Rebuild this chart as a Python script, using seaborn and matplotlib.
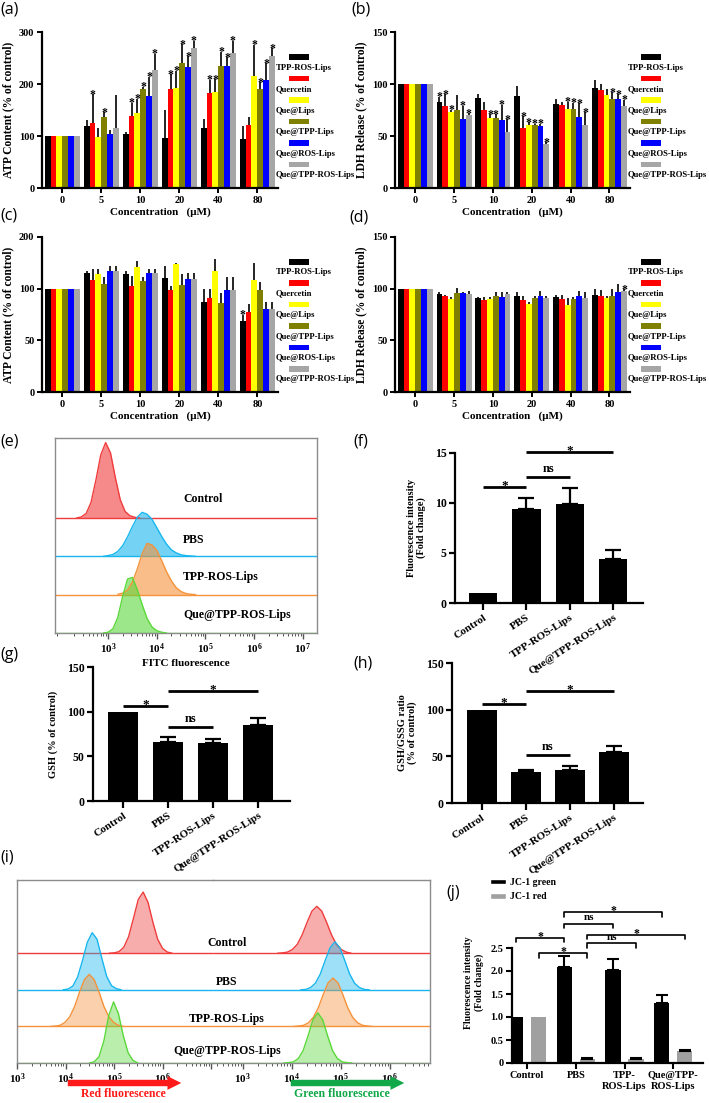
import numpy as np
import pandas as pd
import matplotlib
matplotlib.use("Agg")
import matplotlib.pyplot as plt
import seaborn as sns
from matplotlib.patches import Rectangle, Patch, FancyArrowPatch
from matplotlib.container import BarContainer
from matplotlib.ticker import LogLocator, NullFormatter, FixedLocator

# ---------------------------------------------------------------- data
concentrations = ["0", "5", "10", "20", "40", "80"]
formulations = ["TPP-ROS-Lips", "Quercetin", "Que@Lips", "Que@TPP-Lips",
                "Que@ROS-Lips", "Que@TPP-ROS-Lips"]
formulation_colors = ["#000000", "#ff0000", "#ffff00", "#808000", "#0000ff", "#a6a6a6"]

# (a) ATP content, injured cells  (rows = formulations, cols = concentrations)
atp_a_mean = [[100, 120, 104, 97, 116, 94],
              [100, 125, 138, 190, 182, 121],
              [100, 98, 145, 193, 184, 215],
              [100, 136, 191, 241, 234, 190],
              [100, 103, 177, 232, 234, 208],
              [100, 116, 226, 269, 260, 253]]
atp_a_err = [[0, 11, 3, 53, 16, 26],
             [0, 55, 26, 29, 26, 15],
             [0, 17, 27, 32, 25, 60],
             [0, 10, 4, 35, 28, 13],
             [0, 9, 37, 21, 17, 32],
             [0, 63, 32, 14, 23, 16]]
atp_a_star = [[0, 0, 0, 0, 0, 0],
              [0, 1, 1, 1, 1, 0],
              [0, 0, 1, 1, 1, 1],
              [0, 1, 1, 1, 1, 1],
              [0, 0, 1, 1, 1, 1],
              [0, 0, 1, 1, 1, 1]]

# (b) LDH release, injured cells
ldh_b_mean = [[100, 83, 87, 88, 81, 96],
              [100, 79, 75, 58, 80, 94],
              [100, 73, 67, 61, 76, 89],
              [100, 75, 67, 61, 76, 86],
              [100, 66, 65, 60, 68, 86],
              [100, 70, 54, 42.5, 61, 79]]
ldh_b_err = [[0, 4.5, 3, 10, 5, 8],
             [0, 11, 8, 11, 3, 6],
             [0, 2, 4, 2, 7, 6],
             [0, 14, 4, 1, 6, 6],
             [0, 13, 15, 2, 13.5, 4],
             [0, 2, 12, 1.3, 12, 6]]
ldh_b_star = [[0, 1, 0, 0, 0, 0],
              [0, 1, 0, 1, 0, 0],
              [0, 1, 1, 1, 1, 0],
              [0, 0, 1, 1, 1, 1],
              [0, 1, 1, 1, 1, 1],
              [0, 1, 1, 1, 1, 1]]

# (c) ATP content, normal cells
atp_c_mean = [[100, 130, 129, 121, 87, 69],
              [100, 117, 106, 99, 91, 77],
              [100, 128, 141, 148, 135, 116],
              [100, 110, 114, 107, 86, 99],
              [100, 135, 130, 118, 99, 80],
              [100, 135, 130, 118, 99, 80]]
atp_c_err = [[0, 5, 5, 23, 13, 6],
             [0, 22, 19, 6, 9, 8],
             [0, 10, 12, 2, 22, 34],
             [0, 13, 8, 22, 10, 13],
             [0, 8, 8, 12, 23, 7],
             [0, 8, 8, 12, 23, 7]]
atp_c_star = [[0, 0, 0, 0, 0, 1],
              [0, 0, 0, 0, 0, 0],
              [0, 0, 0, 0, 0, 0],
              [0, 0, 0, 0, 0, 0],
              [0, 0, 0, 0, 0, 0],
              [0, 0, 0, 0, 0, 0]]

# (d) LDH release, normal cells
ldh_d_mean = [[100, 94.5, 91, 92.6, 92, 94],
              [100, 92.6, 89, 89, 90, 92.6],
              [100, 90, 90, 85.5, 84.5, 90.6],
              [100, 96, 92.6, 91, 90, 92.6],
              [100, 96, 92, 92.6, 93, 97],
              [100, 95, 94.5, 91, 91, 97.4]]
ldh_d_err = [[0, 2, 1, 4, 2, 6],
             [0, 1, 3, 4, 4, 6],
             [0, 2, 1.5, 1.5, 6, 2],
             [0, 4.5, 4, 1.5, 1.5, 7.4],
             [0, 1, 5, 5, 5, 8],
             [0, 3, 2, 1.5, 5.5, 2]]
ldh_d_star = [[0, 0, 0, 0, 0, 0],
              [0, 0, 0, 0, 0, 0],
              [0, 0, 0, 0, 0, 0],
              [0, 0, 0, 0, 0, 0],
              [0, 0, 0, 0, 0, 0],
              [0, 0, 0, 0, 0, 1]]

treatments = ["Control", "PBS", "TPP-ROS-Lips", "Que@TPP-ROS-Lips"]
flow_names = ["Control", "PBS", "TPP-ROS-Lips", "Que@TPP-ROS-Lips"]
flow_colors = ["#f03c3c", "#17b6ef", "#f5923a", "#5ad83a"]

# (e) FITC histograms (log10 intensity, relative count)
e_control_logx = [2.35, 2.45, 2.55, 2.65, 2.75, 2.85, 2.95, 3.05, 3.15, 3.25, 3.35, 3.45, 3.55, 3.65]
e_control_h = [0.00, 0.03, 0.12, 0.41, 0.99, 1.65, 1.97, 1.70, 1.05, 0.48, 0.17, 0.06, 0.02, 0.00]
e_pbs_logx = [2.9, 3.0, 3.1, 3.2, 3.3, 3.4, 3.5, 3.6, 3.7, 3.8, 3.9, 4.0, 4.1, 4.2, 4.3, 4.4, 4.5, 4.6, 4.7, 4.8]
e_pbs_h = [0.00, 0.02, 0.05, 0.13, 0.28, 0.51, 0.78, 1.02, 1.15, 1.10, 0.97, 0.75, 0.52, 0.32, 0.17, 0.09, 0.04, 0.02, 0.01, 0.00]
e_tpp_logx = [3.2, 3.3, 3.4, 3.5, 3.6, 3.7, 3.8, 3.9, 4.0, 4.1, 4.2, 4.3, 4.4, 4.5, 4.6, 4.7, 4.8]
e_tpp_h = [0.01, 0.04, 0.12, 0.33, 0.67, 1.07, 1.34, 1.30, 1.16, 0.89, 0.60, 0.36, 0.18, 0.08, 0.03, 0.01, 0.00]
e_que_logx = [2.9, 3.0, 3.1, 3.2, 3.3, 3.4, 3.5, 3.6, 3.7, 3.8, 3.9, 4.0, 4.1, 4.2]
e_que_h = [0.00, 0.02, 0.11, 0.41, 0.96, 1.41, 1.45, 1.13, 0.74, 0.38, 0.16, 0.06, 0.02, 0.00]

# (f) ROS fluorescence intensity
ros_mean = [1.0, 9.43, 9.87, 4.4]
ros_err = [0, 1.1, 1.63, 0.93]
ros_sig = [(0, 1, 11.6, "*"), (1, 2, 12.6, "ns"), (1, 3, 15.1, "*")]

# (g) GSH
gsh_mean = [100, 66.4, 64.6, 84.8]
gsh_err = [0, 5, 4.8, 8.5]
gsh_sig = [(0, 1, 106.4, "*"), (1, 2, 82.5, "ns"), (1, 3, 123.5, "*")]

# (h) GSH/GSSG ratio
ratio_mean = [100, 33, 35, 54.3]
ratio_err = [0, 2, 5, 6.4]
ratio_sig = [(0, 1, 105.7, "*"), (1, 2, 51.4, "ns"), (1, 3, 120.3, "*")]

# (i) JC-1 histograms: red channel (left) and green channel (right)
i_red_control_logx = [4.9, 5.0, 5.1, 5.2, 5.3, 5.4, 5.5, 5.6, 5.7, 5.8, 5.9, 6.0, 6.1, 6.2]
i_red_control_h = [0.00, 0.01, 0.04, 0.16, 0.45, 0.95, 1.47, 1.67, 1.39, 0.85, 0.38, 0.13, 0.03, 0.00]
i_red_pbs_logx = [3.95, 4.05, 4.15, 4.25, 4.35, 4.45, 4.55, 4.65, 4.75, 4.85, 4.95, 5.05, 5.15]
i_red_pbs_h = [0.00, 0.02, 0.10, 0.35, 0.80, 1.30, 1.56, 1.38, 0.85, 0.36, 0.11, 0.03, 0.00]
i_red_tpp_logx = [3.69, 3.79, 3.89, 3.99, 4.09, 4.19, 4.29, 4.39, 4.49, 4.59, 4.69, 4.79, 4.89, 4.99, 5.09, 5.19]
i_red_tpp_h = [0.00, 0.01, 0.03, 0.11, 0.27, 0.55, 0.94, 1.28, 1.42, 1.28, 0.94, 0.55, 0.27, 0.11, 0.03, 0.00]
i_red_que_logx = [4.49, 4.59, 4.69, 4.79, 4.89, 4.99, 5.09, 5.19, 5.29, 5.39, 5.49]
i_red_que_h = [0.00, 0.03, 0.17, 0.60, 1.29, 1.67, 1.35, 0.75, 0.28, 0.07, 0.00]

i_grn_control_logx = [3.71, 3.81, 3.91, 4.01, 4.11, 4.21, 4.31, 4.41, 4.51, 4.61, 4.71, 4.81, 4.91, 5.01, 5.11, 5.21]
i_grn_control_h = [0.00, 0.01, 0.03, 0.10, 0.24, 0.50, 0.84, 1.15, 1.28, 1.15, 0.84, 0.50, 0.24, 0.10, 0.03, 0.00]
i_grn_pbs_logx = [4.18, 4.28, 4.38, 4.48, 4.58, 4.68, 4.78, 4.88, 4.98, 5.08, 5.18, 5.28, 5.38, 5.48, 5.58]
i_grn_pbs_h = [0.00, 0.01, 0.06, 0.18, 0.43, 0.80, 1.15, 1.31, 1.15, 0.80, 0.43, 0.18, 0.06, 0.01, 0.00]
i_grn_tpp_logx = [4.04, 4.14, 4.24, 4.34, 4.44, 4.54, 4.64, 4.74, 4.84, 4.94, 5.04, 5.14, 5.24, 5.34, 5.44, 5.54, 5.64]
i_grn_tpp_h = [0.00, 0.01, 0.03, 0.10, 0.25, 0.51, 0.87, 1.19, 1.32, 1.19, 0.87, 0.51, 0.25, 0.10, 0.03, 0.01, 0.00]
i_grn_que_logx = [3.83, 3.93, 4.03, 4.13, 4.23, 4.33, 4.43, 4.53, 4.63, 4.73, 4.83, 4.93, 5.03, 5.13, 5.23]
i_grn_que_h = [0.00, 0.01, 0.03, 0.12, 0.34, 0.74, 1.18, 1.37, 1.18, 0.74, 0.34, 0.12, 0.03, 0.01, 0.00]

# (j) JC-1 fluorescence
jc_groups = ["Control", "PBS", "TPP-\nROS-Lips", "Que@TPP-\nROS-Lips"]
jc_channels = ["JC-1 green", "JC-1 red"]
jc_green_mean = [1.0, 2.08, 2.03, 1.30]
jc_green_err = [0, 0.25, 0.23, 0.17]
jc_red_mean = [1.0, 0.095, 0.09, 0.255]
jc_red_err = [0, 0.02, 0.02, 0.03]
# (group, channel) pairs: channel 0 = green, 1 = red
jc_sig = [((0, 0), (1, 0), 2.72, "*"), ((0, 1), (1, 1), 2.39, "*"),
          ((1, 0), (2, 0), 3.03, "ns"), ((1, 1), (2, 1), 2.61, "ns"),
          ((1, 0), (3, 0), 3.28, "*"), ((1, 1), (3, 1), 2.79, "*")]

# ---------------------------------------------------------------- style
sns.set_theme(style="ticks")
plt.rcParams["font.family"] = ["Liberation Serif", "DejaVu Serif"]
plt.rcParams["font.weight"] = "bold"
plt.rcParams["axes.labelweight"] = "bold"
plt.rcParams["mathtext.fontset"] = "custom"
plt.rcParams["mathtext.rm"] = "Liberation Serif:bold"
plt.rcParams["mathtext.it"] = "Liberation Serif:bold"
plt.rcParams["mathtext.bf"] = "Liberation Serif:bold"
plt.rcParams["axes.linewidth"] = 1.6
plt.rcParams["axes.edgecolor"] = "black"
plt.rcParams["axes.facecolor"] = "none"
plt.rcParams["xtick.color"] = "black"
plt.rcParams["ytick.color"] = "black"
plt.rcParams["text.color"] = "black"
plt.rcParams["axes.labelcolor"] = "black"

W, H = 709.0, 1103.0
fig = plt.figure(figsize=(W / 100, H / 100), dpi=100, facecolor="white")


def rect(l, t, r, b):
    return [l / W, 1 - b / H, (r - l) / W, (b - t) / H]


def seg_fwd(v):
    v = np.asarray(v, dtype=float)
    return np.where(v <= 100, v, 100 + (v - 100) / 2.0)


def seg_inv(t):
    t = np.asarray(t, dtype=float)
    return np.where(t <= 100, t, 100 + (t - 100) * 2.0)


def bar_containers(ax):
    return [c for c in ax.containers if isinstance(c, BarContainer)]


def conc_panel(ax, mean, err, star, ylabel, ymax, yticks, segmented=False):
    df = pd.DataFrame({"conc": np.tile(concentrations, len(formulations)),
                       "form": np.repeat(formulations, len(concentrations)),
                       "val": np.ravel(mean)})
    sns.barplot(data=df, x="conc", y="val", hue="form", order=concentrations,
                hue_order=formulations, palette=formulation_colors, saturation=1,
                width=0.9, errorbar=None, legend=False, linewidth=0, ax=ax)
    if segmented:
        ax.set_yscale("function", functions=(seg_fwd, seg_inv))
    for i, cont in enumerate(bar_containers(ax)):
        for j, bar in enumerate(cont.patches):
            xc = bar.get_x() + bar.get_width() / 2
            m, e = mean[i][j], err[i][j]
            if e > 0:
                ax.plot([xc, xc], [m, m + e], color="black", lw=1.2,
                        solid_capstyle="butt", zorder=1)
            if star[i][j]:
                ax.annotate("*", (xc, m + e), xytext=(0, -2.5), textcoords="offset points",
                            ha="center", va="baseline", fontsize=8.5, annotation_clip=False)
    ax.set_xlim(-0.52, 5.53)
    ax.set_ylim(0, ymax)
    ax.yaxis.set_major_locator(FixedLocator(yticks))
    ax.set_yticklabels([str(t) for t in yticks])
    ax.yaxis.set_minor_locator(FixedLocator([]))
    ax.set_xlabel("Concentration   (μM)", fontsize=8, labelpad=2)
    ax.set_ylabel(ylabel, fontsize=8.3, labelpad=3)
    ax.tick_params(axis="both", labelsize=7.5, length=3.5, width=1.4, pad=2)
    sns.despine(ax=ax)
    for k, (name, col) in enumerate(zip(formulations, formulation_colors)):
        y0 = 0.84 - k * 0.138
        ax.add_patch(Rectangle((1.045, y0 - 0.018), 0.085, 0.036, transform=ax.transAxes,
                               facecolor=col, edgecolor="none", clip_on=False))
        ax.text(0.99, y0 - 0.068, name, transform=ax.transAxes, fontsize=6.2,
                va="center", ha="left")


def flow_curve(ax, logx, h, base, color, alpha):
    x = np.power(10.0, np.asarray(logx))
    y = base + np.asarray(h)
    ax.axhline(base, color=color, lw=1.0, zorder=2)
    ax.fill_between(x, base, y, color=color, alpha=alpha, lw=0, zorder=2)
    ax.plot(x, y, color=color, lw=1.0, zorder=3)


def style_flow_axis(ax, xlim, ylim_top, major, labelled):
    ax.set_xscale("log")
    ax.set_xlim(*xlim)
    ax.set_ylim(0, ylim_top)
    ax.set_yticks([])
    ax.xaxis.set_major_locator(FixedLocator(major))
    ax.set_xticklabels([r"$\mathdefault{10^{%d}}$" % int(round(np.log10(m))) if lab else ""
                        for m, lab in zip(major, labelled)])
    ax.xaxis.set_minor_locator(LogLocator(base=10, subs=np.arange(2, 10) * 1.0, numticks=20))
    ax.xaxis.set_minor_formatter(NullFormatter())
    ax.tick_params(axis="x", which="major", length=4, width=1.0, labelsize=8, pad=2, color="#555555")
    ax.tick_params(axis="x", which="minor", length=2, width=0.7, color="#555555")
    for sp in ax.spines.values():
        sp.set_color("#8c8c8c")
        sp.set_linewidth(1.0)


def simple_panel(ax, mean, err, sig, ylabel, ymax, yticks, xlim, width, labelpad):
    df = pd.DataFrame({"treatment": treatments, "val": mean})
    sns.barplot(data=df, x="treatment", y="val", order=treatments, color="black",
                saturation=1, width=width, errorbar=None, linewidth=0, ax=ax)
    for k in range(len(treatments)):
        if err[k] > 0:
            ax.errorbar(k, mean[k], yerr=[[0], [err[k]]], fmt="none", ecolor="black",
                        elinewidth=1.6, capsize=5.5, capthick=1.6, zorder=1)
    for x1, x2, y, txt in sig:
        ax.plot([x1, x2], [y, y], color="black", lw=2.0, clip_on=False, solid_capstyle="butt")
        if txt == "*":
            ax.annotate("*", ((x1 + x2) / 2, y), xytext=(0, -1.5), textcoords="offset points",
                        ha="center", va="baseline", fontsize=9.5, annotation_clip=False)
        else:
            ax.annotate(txt, ((x1 + x2) / 2, y), xytext=(0, 1.5), textcoords="offset points",
                        ha="center", va="bottom", fontsize=9, annotation_clip=False)
    ax.set_xlim(*xlim)
    ax.set_ylim(0, ymax)
    ax.set_yticks(yticks)
    ax.set_yticklabels([str(t) for t in yticks])
    ax.set_xlabel("")
    ax.set_ylabel(ylabel, fontsize=7.5, labelpad=labelpad, linespacing=1.1)
    ax.tick_params(axis="y", labelsize=8.5, length=4, width=1.6, pad=2)
    ax.tick_params(axis="x", labelsize=8, length=5, width=1.6, pad=2)
    for lab in ax.get_xticklabels():
        lab.set_rotation(33)
        lab.set_ha("right")
        lab.set_rotation_mode("anchor")
    sns.despine(ax=ax)


# ---------------------------------------------------------------- (a)-(d)
axA = fig.add_axes(rect(42, 32, 278, 188))
conc_panel(axA, atp_a_mean, atp_a_err, atp_a_star, "ATP Content (% of control)", 300, [0, 100, 200, 300])
axB = fig.add_axes(rect(395, 32, 630, 188))
conc_panel(axB, ldh_b_mean, ldh_b_err, ldh_b_star, "LDH Release (% of control)", 150, [0, 50, 100, 150])
axC = fig.add_axes(rect(42, 237, 278, 392))
conc_panel(axC, atp_c_mean, atp_c_err, atp_c_star, "ATP Content (% of control)", 200, [0, 50, 100, 200],
           segmented=True)
axD = fig.add_axes(rect(395, 237, 630, 392))
conc_panel(axD, ldh_d_mean, ldh_d_err, ldh_d_star, "LDH Release (% of control)", 150, [0, 50, 100, 150])

# ---------------------------------------------------------------- (e)
axE = fig.add_axes(rect(55, 438, 317, 633))
e_curves = [(e_control_logx, e_control_h, 3), (e_pbs_logx, e_pbs_h, 2),
            (e_tpp_logx, e_tpp_h, 1), (e_que_logx, e_que_h, 0)]
for (lx, hh, base), col in zip(e_curves, flow_colors):
    flow_curve(axE, lx, hh, base, col, 0.6)
style_flow_axis(axE, (10 ** 1.91, 10 ** 7.29), 5.09, [1e3, 1e4, 1e5, 1e6, 1e7], [1, 1, 1, 1, 1])
axE.set_xlabel("FITC fluorescence", fontsize=8, labelpad=2)
for name, ypx in zip(flow_names, [499, 540, 577, 615]):
    fig.text(183 / W, 1 - ypx / H, name, fontsize=8.5, ha="left", va="center")

# ---------------------------------------------------------------- (f) (g) (h)
axF = fig.add_axes(rect(455, 453, 643, 603))
simple_panel(axF, ros_mean, ros_err, ros_sig, "Fluorescence intensity\n(Fold change)", 15,
             [0, 5, 10, 15], (-0.65, 3.69), 0.65, 6)
axG = fig.add_axes(rect(93, 667, 290, 801))
simple_panel(axG, gsh_mean, gsh_err, gsh_sig, "GSH (% of control)", 150,
             [0, 50, 100, 150], (-0.67, 3.71), 0.67, 6)
axH = fig.add_axes(rect(452, 663, 643, 803))
simple_panel(axH, ratio_mean, ratio_err, ratio_sig, "GSH/GSSG ratio\n(% of control)", 150,
             [0, 50, 100, 150], (-0.68, 3.66), 0.68, 6)

# ---------------------------------------------------------------- (i)
axI1 = fig.add_axes(rect(17, 880, 213, 1063))
axI2 = fig.add_axes(rect(213, 880, 430, 1063))
i_red = [(i_red_control_logx, i_red_control_h, 3), (i_red_pbs_logx, i_red_pbs_h, 2),
         (i_red_tpp_logx, i_red_tpp_h, 1), (i_red_que_logx, i_red_que_h, 0)]
i_grn = [(i_grn_control_logx, i_grn_control_h, 3), (i_grn_pbs_logx, i_grn_pbs_h, 2),
         (i_grn_tpp_logx, i_grn_tpp_h, 1), (i_grn_que_logx, i_grn_que_h, 0)]
for (lx, hh, base), col in zip(i_red, flow_colors):
    flow_curve(axI1, lx, hh, base, col, 0.42)
for (lx, hh, base), col in zip(i_grn, flow_colors):
    flow_curve(axI2, lx, hh, base, col, 0.42)
style_flow_axis(axI1, (1e3, 10 ** 7.04), 5.0, [1e3, 1e4, 1e5, 1e6, 1e7], [1, 1, 1, 1, 0])
style_flow_axis(axI2, (10 ** 2.39, 10 ** 6.82), 5.0, [1e3, 1e4, 1e5, 1e6], [1, 1, 1, 1])
axI1.spines["right"].set_visible(False)
axI2.spines["left"].set_visible(False)
for name, ypx in zip(flow_names, [943, 982, 1019, 1051]):
    fig.text(227 / W, 1 - ypx / H, name, fontsize=8.5, ha="center", va="center")
for (x0, x1, col, txt, xc) in [(65, 184, "#ff1a1a", "Red fluorescence", 123),
                               (288, 407, "#10a848", "Green fluorescence", 342)]:
    fig.add_artist(FancyArrowPatch((x0 / W, 20 / H), (x1 / W, 20 / H), transform=fig.transFigure,
                                   arrowstyle="simple,head_length=0.9,head_width=0.9,tail_width=0.42",
                                   mutation_scale=11, color=col, lw=0))
    fig.text(xc / W, 1 - 1094 / H, txt, color=col, fontsize=8.5, ha="center", va="center")

# ---------------------------------------------------------------- (j)
axJ = fig.add_axes(rect(512, 902, 703, 1063))
jc_df = pd.DataFrame({"group": np.tile(jc_groups, 2),
                      "channel": np.repeat(jc_channels, len(jc_groups)),
                      "val": jc_green_mean + jc_red_mean})
sns.barplot(data=jc_df, x="group", y="val", hue="channel", order=jc_groups, hue_order=jc_channels,
            palette=["#000000", "#a0a0a0"], saturation=1, width=0.944, gap=0.34,
            errorbar=None, linewidth=0, ax=axJ)
jc_means = [jc_green_mean, jc_red_mean]
jc_errs = [jc_green_err, jc_red_err]
jc_x = {}
for c, cont in enumerate(bar_containers(axJ)):
    for g, bar in enumerate(cont.patches):
        jc_x[(g, c)] = bar.get_x() + bar.get_width() / 2
for (g, c), xc in jc_x.items():
    if jc_errs[c][g] > 0:
        axJ.errorbar(xc, jc_means[c][g], yerr=[[0], [jc_errs[c][g]]], fmt="none",
                     ecolor="black", elinewidth=1.5, capsize=4, capthick=1.5, zorder=1)
for a, b, y, txt in jc_sig:
    x1, x2 = jc_x[a], jc_x[b]
    axJ.plot([x1, x1, x2, x2], [y - 0.1, y, y, y - 0.1], color="black", lw=1.2, clip_on=False)
    if txt == "*":
        axJ.annotate("*", ((x1 + x2) / 2, y), xytext=(0, -1.5), textcoords="offset points",
                     ha="center", va="baseline", fontsize=8.5, annotation_clip=False)
    else:
        axJ.annotate(txt, ((x1 + x2) / 2, y), xytext=(0, 1), textcoords="offset points",
                     ha="center", va="bottom", fontsize=8, annotation_clip=False)
axJ.set_xlim(-0.31, 3.61)
axJ.set_ylim(0, 3.5)
axJ.set_yticks([0, 0.5, 1.0, 1.5, 2.0, 2.5])
axJ.set_yticklabels(["0", "0.5", "1.0", "1.5", "2.0", "2.5"])
axJ.spines["left"].set_bounds(0, 2.5)
axJ.set_xlabel("")
axJ.set_ylabel("Fluorescence intensity\n(Fold change)", fontsize=7, labelpad=5, linespacing=1.1)
axJ.tick_params(axis="both", labelsize=7.5, length=4, width=1.5, pad=2)
sns.despine(ax=axJ)
axJ.legend(handles=[Patch(facecolor="#000000"), Patch(facecolor="#a0a0a0")], labels=jc_channels,
           loc="upper left", bbox_to_anchor=(490 / W, 1 - 878 / H), bbox_transform=fig.transFigure,
           frameon=False, fontsize=7, handlelength=1.6, handleheight=0.5, handletextpad=0.5,
           labelspacing=0.55, borderaxespad=0, borderpad=0)

# ---------------------------------------------------------------- panel labels
for lab, x, y in [("(a)", 0, 9), ("(b)", 351, 9), ("(c)", 0, 216), ("(d)", 349, 218),
                  ("(e)", 0, 442), ("(f)", 353, 442), ("(g)", 0, 655), ("(h)", 353, 663),
                  ("(i)", 0, 857), ("(j)", 446, 893)]:
    fig.text(x / W, 1 - y / H, lab, fontsize=11.5, fontweight="normal",
             family=["Open Sans", "DejaVu Sans"], ha="left", va="center")

fig.savefig("out.png", dpi=100, facecolor="white")
